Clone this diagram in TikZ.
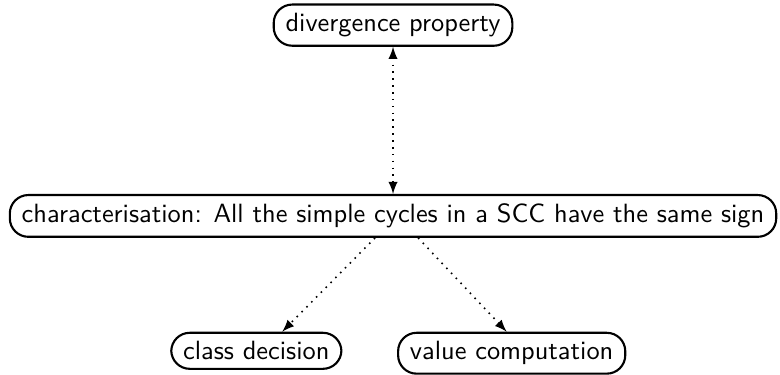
\documentclass[tikz,border=0pt]{standalone}
\usepackage{tikz}
\usetikzlibrary{arrows.meta, positioning, calc}

\begin{document}
\begin{tikzpicture}[>=latex, font=\sffamily,
  stage/.style={draw, rounded corners=7pt, thick, inner xsep=4.5pt, inner ysep=3.3pt},
  link/.style={dotted, semithick}]
\node[stage] (char) at (0,0) {characterisation: All the simple cycles in a SCC have the same sign};
\node[stage, above=1.96cm of char] (div) {divergence property};
\node[stage, below=1.25cm of char, xshift=-1.82cm] (cls) {class decision};
\node[stage, below=1.25cm of char, xshift=1.58cm] (val) {value computation};
\draw[link, <->] (div) -- (char);
\draw[link, ->] ($(char.south)+(-6.8pt,0)$) -- ($(cls.north)+(9.8pt,0)$);
\draw[link, ->] ($(char.south)+(9.5pt,0)$) -- ($(val.north)+(-1.9pt,0)$);
\useasboundingbox ($(char.center)+(-148.9pt,-58.7pt)$) rectangle ($(char.center)+(146.6pt,81.8pt)$);
\end{tikzpicture}
\end{document}
